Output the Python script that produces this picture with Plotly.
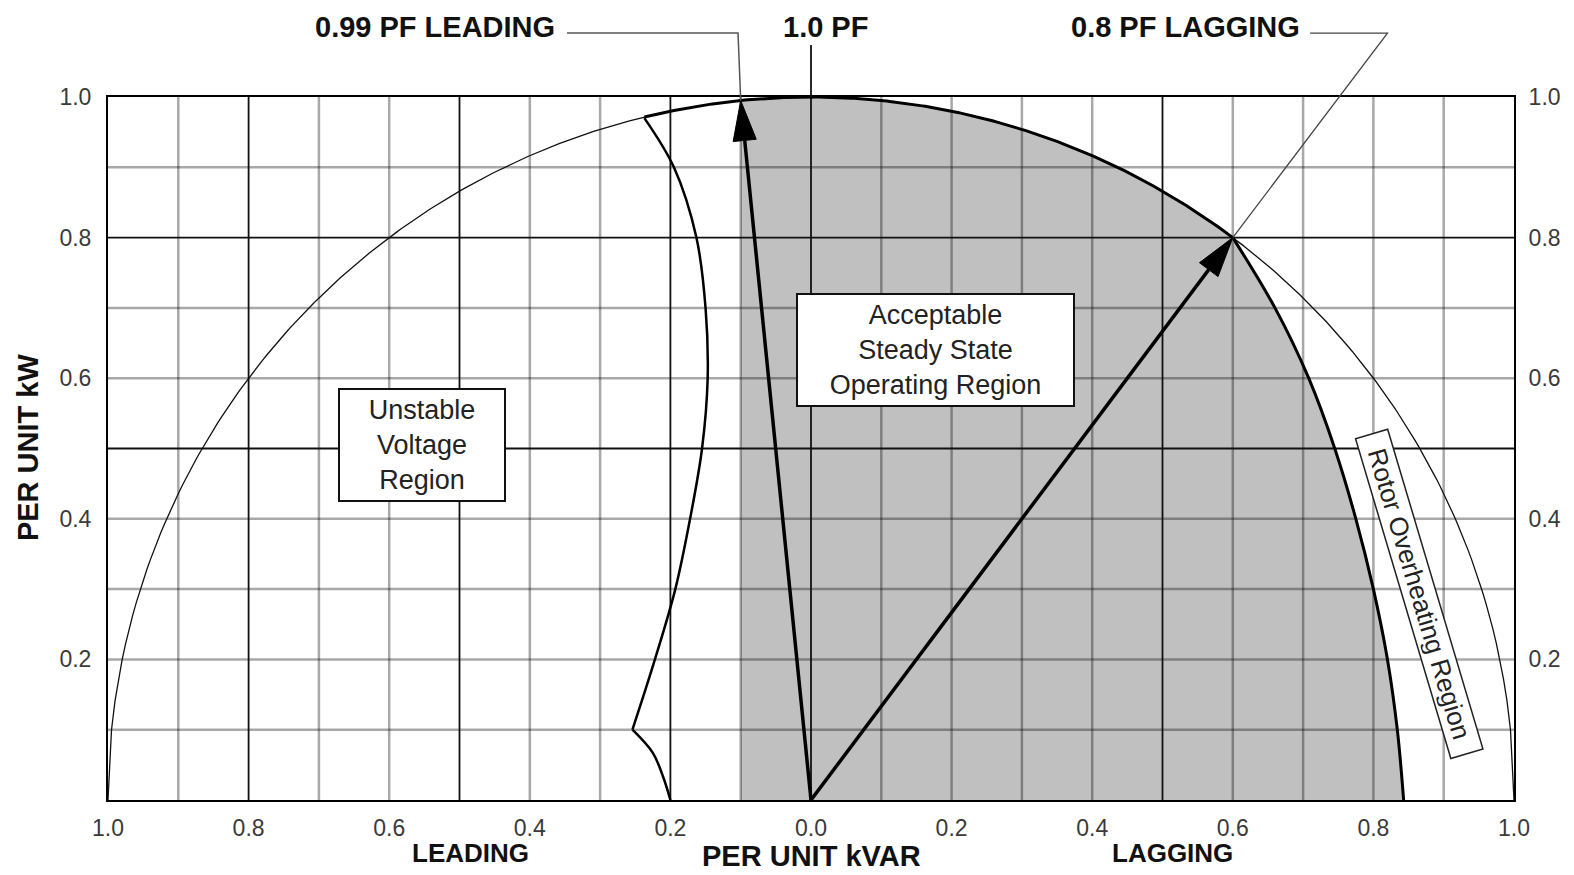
import numpy as np
import plotly.graph_objects as go

# ---------------- data ----------------
x_tick_vals = [-1.0, -0.8, -0.6, -0.4, -0.2, 0.0, 0.2, 0.4, 0.6, 0.8, 1.0]
x_tick_text = ["1.0", "0.8", "0.6", "0.4", "0.2", "0.0", "0.2", "0.4", "0.6", "0.8", "1.0"]
y_tick_vals = [0.2, 0.4, 0.6, 0.8, 1.0]
y_tick_text = ["0.2", "0.4", "0.6", "0.8", "1.0"]

grid_x_dark = [-0.8, -0.5, -0.2, 0.0, 0.5]
grid_x_light = [-0.9, -0.7, -0.6, -0.4, -0.3, -0.1, 0.1, 0.2, 0.3, 0.4, 0.6, 0.7, 0.8, 0.9]
grid_y_dark = [0.8, 0.5]
grid_y_light = [0.1, 0.2, 0.3, 0.4, 0.6, 0.7, 0.9]

rated_kva = 1.0  # capability circle radius (per unit)

# steady-state stability limit (leading side)
stab_kw_upper = [0.97, 0.9, 0.8, 0.7, 0.6, 0.5, 0.4, 0.3, 0.2, 0.1]
stab_kvar_upper = [-0.237, -0.195, -0.163, -0.150, -0.147, -0.155, -0.172, -0.193, -0.222, -0.254]
stab_kw_lower = [0.1, 0.067, 0.032, 0.0]
stab_kvar_lower = [-0.254, -0.225, -0.21, -0.2]

# rotor heating limit (lagging side)
rotor_kw = [0.8, 0.7, 0.6, 0.5, 0.4, 0.3, 0.2, 0.1, 0.0]
rotor_kvar = [0.6, 0.66, 0.708, 0.745, 0.775, 0.800, 0.820, 0.834, 0.843]

acc_left_kvar = -0.1
thick_arc_start = -0.237
pf_leading_tip = (-0.1, 0.995)
pf_lagging_tip = (0.6, 0.8)

# ---------------- figure ----------------
fig = go.Figure()

def circ(x0, x1, n=200):
    xs = np.linspace(x0, x1, n)
    return xs, np.sqrt(np.clip(rated_kva**2 - xs**2, 0, None))

# gray acceptable region
cx, cy = circ(acc_left_kvar, pf_lagging_tip[0], 120)
fx = [acc_left_kvar] + list(cx) + rotor_kvar[1:] + [acc_left_kvar]
fy = [0.0] + list(cy) + rotor_kw[1:] + [0.0]
fig.add_trace(go.Scatter(x=fx, y=fy, mode="lines", fill="toself",
                         fillcolor="#c0c0c0", line=dict(width=0),
                         hoverinfo="skip", showlegend=False))

# grid
for xv in grid_x_light:
    fig.add_trace(go.Scatter(x=[xv, xv], y=[0, 1], mode="lines",
                             line=dict(color="rgba(0,0,0,0.34)", width=2.5),
                             hoverinfo="skip", showlegend=False))
for yv in grid_y_light:
    fig.add_trace(go.Scatter(x=[-1, 1], y=[yv, yv], mode="lines",
                             line=dict(color="rgba(0,0,0,0.34)", width=2.5),
                             hoverinfo="skip", showlegend=False))
for xv in grid_x_dark:
    fig.add_trace(go.Scatter(x=[xv, xv], y=[0, 1], mode="lines",
                             line=dict(color="#111111", width=1.8),
                             hoverinfo="skip", showlegend=False))
for yv in grid_y_dark:
    fig.add_trace(go.Scatter(x=[-1, 1], y=[yv, yv], mode="lines",
                             line=dict(color="#111111", width=1.8),
                             hoverinfo="skip", showlegend=False))

# thin outer circle
ox, oy = circ(-rated_kva, rated_kva, 400)
fig.add_trace(go.Scatter(x=ox, y=oy, mode="lines", line=dict(color="#111", width=1.3),
                         hoverinfo="skip", showlegend=False))
# thick arc on top of region
tx, ty = circ(thick_arc_start, pf_lagging_tip[0], 200)
fig.add_trace(go.Scatter(x=tx, y=ty, mode="lines", line=dict(color="#000", width=3),
                         hoverinfo="skip", showlegend=False))
# rotor heating limit
fig.add_trace(go.Scatter(x=rotor_kvar, y=rotor_kw, mode="lines", line_shape="spline",
                         line=dict(color="#000", width=3), hoverinfo="skip", showlegend=False))
# stability limit
fig.add_trace(go.Scatter(x=stab_kvar_upper, y=stab_kw_upper, mode="lines", line_shape="spline",
                         line=dict(color="#000", width=2.5), hoverinfo="skip", showlegend=False))
fig.add_trace(go.Scatter(x=stab_kvar_lower, y=stab_kw_lower, mode="lines", line_shape="spline",
                         line=dict(color="#000", width=2.5), hoverinfo="skip", showlegend=False))

# PF arrows
head_len = 0.057
head_half = 0.0165
for tip in (pf_leading_tip, pf_lagging_tip):
    tx0, ty0 = tip
    L = np.hypot(tx0, ty0)
    ux, uy = tx0 / L, ty0 / L
    bx, by = tx0 - ux * head_len, ty0 - uy * head_len
    px, py = -uy, ux
    fig.add_trace(go.Scatter(x=[0, bx], y=[0, by], mode="lines",
                             line=dict(color="#000", width=3.5), hoverinfo="skip", showlegend=False))
    fig.add_trace(go.Scatter(x=[tx0, bx + px * head_half, bx - px * head_half, tx0],
                             y=[ty0, by + py * head_half, by - py * head_half, ty0],
                             mode="lines", fill="toself", fillcolor="#000",
                             line=dict(color="#000", width=1), hoverinfo="skip", showlegend=False))

# invisible trace for right axis
fig.add_trace(go.Scatter(x=[0], y=[0], yaxis="y2", mode="markers",
                         marker=dict(opacity=0), hoverinfo="skip", showlegend=False))

# ---------- leader lines (paper coords derived from data) ----------
def xp(x):
    return (x + 1) / 2.0

lead_y = 1.091
shapes = [
    dict(type="path", xref="paper", yref="paper",
         path=f"M 0.3265 {lead_y} L 0.4481 {lead_y} L {xp(pf_leading_tip[0])} {pf_leading_tip[1]}",
         line=dict(color="#555", width=1.5)),
    dict(type="line", xref="paper", yref="paper", x0=xp(0), x1=xp(0), y0=1.0, y1=1.074,
         line=dict(color="#111", width=1.8)),
    dict(type="path", xref="paper", yref="paper",
         path=f"M 0.855 {lead_y} L 0.910 {lead_y} L {xp(pf_lagging_tip[0])} {pf_lagging_tip[1]}",
         line=dict(color="#444", width=1.3)),
]

FONT = "Liberation Sans, Arial, sans-serif"
annos = [
    dict(text="<b>0.99 PF LEADING</b>", xref="paper", yref="paper", x=0.3193, y=1.0996,
         xanchor="right", yanchor="middle", showarrow=False, font=dict(family=FONT, size=29, color="#111")),
    dict(text="<b>1.0 PF</b>", xref="paper", yref="paper", x=0.51, y=1.0996,
         xanchor="center", yanchor="middle", showarrow=False, font=dict(family=FONT, size=29, color="#111")),
    dict(text="<b>0.8 PF LAGGING</b>", xref="paper", yref="paper", x=0.849, y=1.0996,
         xanchor="right", yanchor="middle", showarrow=False, font=dict(family=FONT, size=29, color="#111")),
    dict(text="<b>LEADING</b>", xref="paper", yref="paper", x=0.2575, y=-0.0754,
         xanchor="center", yanchor="middle", showarrow=False, font=dict(family=FONT, size=26, color="#111")),
    dict(text="<b>PER UNIT kVAR</b>", xref="paper", yref="paper", x=0.5, y=-0.0797,
         xanchor="center", yanchor="middle", showarrow=False, font=dict(family=FONT, size=29, color="#111")),
    dict(text="<b>LAGGING</b>", xref="paper", yref="paper", x=0.757, y=-0.0754,
         xanchor="center", yanchor="middle", showarrow=False, font=dict(family=FONT, size=26, color="#111")),
    dict(text="<b>PER UNIT kW</b>", xref="paper", yref="paper", x=-0.0569, y=0.502,
         xanchor="center", yanchor="middle", textangle=-90, showarrow=False,
         font=dict(family=FONT, size=29, color="#111")),
    dict(text="Unstable<br>Voltage<br>Region", xref="x", yref="y", x=-0.554, y=0.505,
         showarrow=False, width=160, height=106, borderpad=2, bordercolor="#111", borderwidth=2,
         bgcolor="white", font=dict(family=FONT, size=27, color="#222")),
    dict(text="Acceptable<br>Steady State<br>Operating Region", xref="x", yref="y", x=0.177, y=0.640,
         showarrow=False, width=271, height=106, borderpad=2, bordercolor="#111", borderwidth=2,
         bgcolor="white", font=dict(family=FONT, size=27, color="#222")),
    dict(text="Rotor Overheating Region", xref="x", yref="y", x=0.866, y=0.293,
         showarrow=False, textangle=73.4, width=328, height=28, borderpad=2, bordercolor="#222",
         borderwidth=1.5, bgcolor="white", font=dict(family=FONT, size=26, color="#222")),
]

axis_common = dict(showgrid=False, zeroline=False, showline=True, linecolor="#000", linewidth=2,
                   ticks="", tickfont=dict(family=FONT, size=23, color="#3a3a3a"), fixedrange=True)

fig.update_layout(
    width=1574, height=875,
    margin=dict(l=108, r=60, t=97, b=75),
    paper_bgcolor="white", plot_bgcolor="white",
    showlegend=False,
    xaxis=dict(range=[-1, 1], tickvals=x_tick_vals, ticktext=x_tick_text, mirror=True,
               ticklabelstandoff=6, **axis_common),
    yaxis=dict(range=[0, 1], tickvals=y_tick_vals, ticktext=y_tick_text, mirror=True,
               ticklabelstandoff=10, **axis_common),
    yaxis2=dict(range=[0, 1], tickvals=y_tick_vals, ticktext=y_tick_text, overlaying="y",
                side="right", ticklabelstandoff=8, **axis_common),
    shapes=shapes,
    annotations=annos,
)

fig.write_html("out.html", config={"displayModeBar": False},
               post_script="document.body.style.margin='0';document.body.style.overflow='hidden';")
